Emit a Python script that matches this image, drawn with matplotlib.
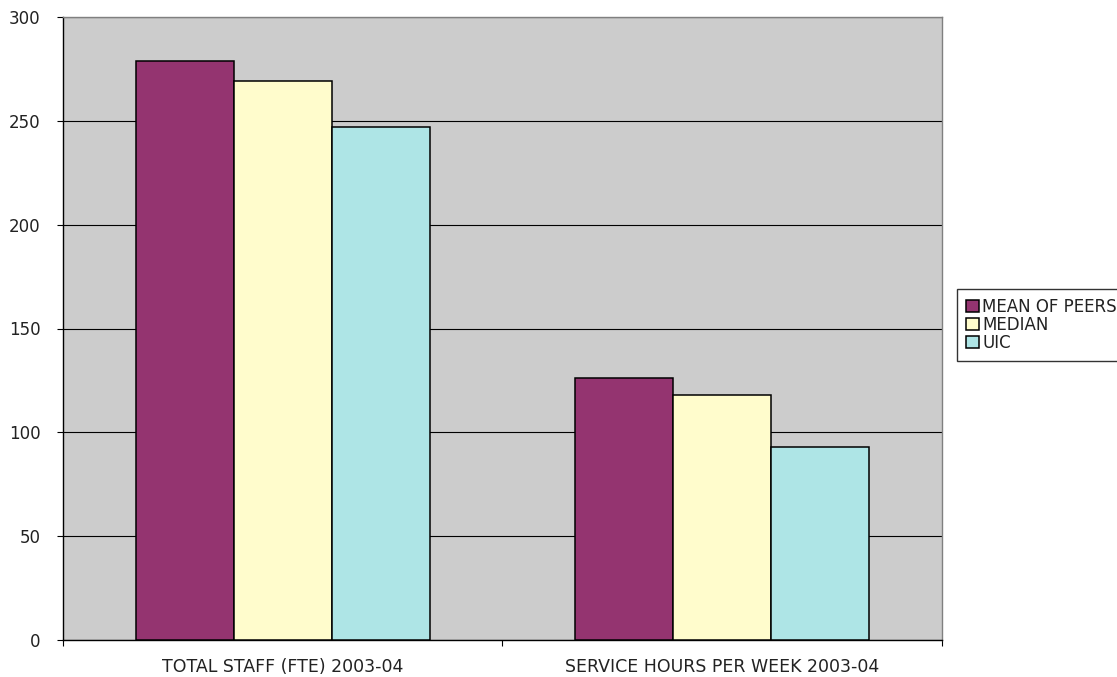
import matplotlib
matplotlib.use("Agg")
import matplotlib.pyplot as plt
import numpy as np

categories = ["TOTAL STAFF (FTE) 2003-04", "SERVICE HOURS PER WEEK 2003-04"]
series_names = ["MEAN OF PEERS", "MEDIAN", "UIC"]
mean_of_peers = [279, 126]
median = [269, 118]
uic = [247, 93]
y_ticks = [0, 50, 100, 150, 200, 250, 300]

colors = ["#943470", "#FFFCCC", "#AEE5E6"]

plt.rcParams["font.family"] = ["DejaVu Sans"]

fig = plt.figure(figsize=(11.17, 6.77), dpi=100)
ax = fig.add_axes([63 / 1117, 1 - 640 / 677, (942 - 63) / 1117, (640 - 17) / 677])
ax.set_facecolor("#CCCCCC")

centers = np.arange(len(categories)) + 0.5
width = 0.223
for i, (name, vals) in enumerate(zip(series_names, [mean_of_peers, median, uic])):
    ax.bar(centers + (i - 1) * width, vals, width, color=colors[i],
           edgecolor="black", linewidth=1.1, label=name, zorder=3)

ax.set_xlim(0, len(categories))
ax.set_ylim(0, 300)
ax.set_yticks(y_ticks)
ax.yaxis.grid(True, color="black", linewidth=0.8, zorder=1)
ax.set_axisbelow(True)

ax.set_xticks(centers)
ax.set_xticklabels(categories, fontsize=12.5, color="#222222")
ax.tick_params(axis="x", which="major", length=0, pad=13)
ax.set_xticks(np.arange(len(categories) + 1), minor=True)
ax.tick_params(axis="x", which="minor", length=4, width=0.8, color="black", direction="out")
ax.tick_params(axis="y", length=4, width=0.8, pad=12, labelsize=12, labelcolor="#222222",
               direction="out")

for s in ["left", "bottom"]:
    ax.spines[s].set_color("black")
    ax.spines[s].set_linewidth(1.0)
for s in ["top", "right"]:
    ax.spines[s].set_color("#808080")
    ax.spines[s].set_linewidth(1.0)

leg = fig.legend(loc="upper left", bbox_to_anchor=(957 / 1117, 1 - 289 / 677),
                 fontsize=12, frameon=True, fancybox=False, edgecolor="black",
                 handlelength=0.75, handleheight=0.75, handletextpad=0.2,
                 labelspacing=0.0, borderpad=0.55, borderaxespad=0)
leg.get_frame().set_linewidth(1.0)
for t in leg.get_texts():
    t.set_color("#222222")

fig.savefig("out.png", dpi=100)
